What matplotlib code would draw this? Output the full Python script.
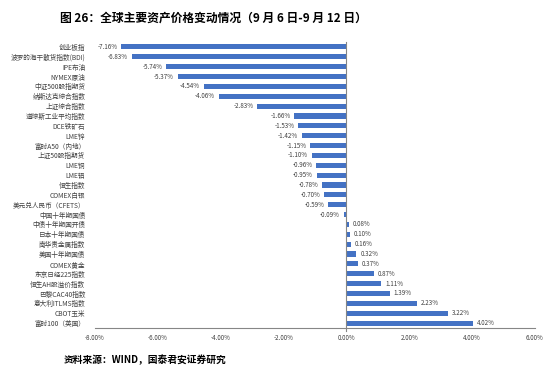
import matplotlib
matplotlib.use("Agg")
import matplotlib.pyplot as plt
from matplotlib.ticker import FuncFormatter

plt.rcParams['font.family'] = ['Noto Sans CJK SC', 'DejaVu Sans']

categories = ["创业板指", "波罗的海干散货指数(BDI)", "IPE布油", "NYMEX原油", "中证500股指期货",
              "纳斯达克综合指数", "上证综合指数", "道琼斯工业平均指数", "DCE铁矿石", "LME锌",
              "富时A50（内地）", "上证50股指期货", "LME铜", "LME铝", "恒生指数", "COMEX白银",
              "美元兑人民币（CFETS）", "中国十年期国债", "中债十年期国开债", "日本十年期国债",
              "南华贵金属指数", "美国十年期国债", "COMEX黄金", "东京日经225指数", "恒生AH股溢价指数",
              "巴黎CAC40指数", "意大利ITLMS指数", "CBOT玉米", "富时100（英国）"]
values = [-7.16, -6.83, -5.74, -5.37, -4.54, -4.06, -2.83, -1.66, -1.53, -1.42,
          -1.15, -1.10, -0.96, -0.95, -0.78, -0.70, -0.59, -0.09, 0.08, 0.10,
          0.16, 0.32, 0.37, 0.87, 1.11, 1.39, 2.23, 3.22, 4.02]
xticks = [-8, -6, -4, -2, 0, 2, 4, 6]

fig = plt.figure(figsize=(5.5, 3.74), dpi=100)
ax = fig.add_axes([95/550, 1-328/374, 440/550, (328-42)/374])

n = len(categories)
ypos = list(range(n))
color = "#4472C4"
ax.barh(ypos, values, height=0.52, color=color, zorder=2)
ax.set_ylim(n - 0.5, -0.5)
ax.set_xlim(-8, 6)
ax.set_xticks(xticks)
ax.xaxis.set_major_formatter(FuncFormatter(lambda v, p: f"{v:.2f}%"))
ax.tick_params(axis='x', length=0, labelsize=4.5, colors="#404040", pad=4)
ax.set_yticks(ypos)
ax.set_yticklabels(categories)
ax.tick_params(axis='y', length=0, labelsize=4.8, colors="#404040", pad=7)

for s in ['top', 'right', 'left']:
    ax.spines[s].set_visible(False)
ax.spines['bottom'].set_color("#868686")
ax.spines['bottom'].set_linewidth(0.8)
ax.axvline(0, ymin=-0.012, ymax=1.0, color="#868686", linewidth=0.8, zorder=3, clip_on=False)

for y, v in zip(ypos, values):
    if v < 0:
        ax.text(v - 0.12, y, f"{v:.2f}%", ha='right', va='center', fontsize=4.5, color="#404040")
    else:
        ax.text(v + 0.12, y, f"{v:.2f}%", ha='left', va='center', fontsize=4.5, color="#404040")

fig.text(60/550, 1-18/374, "图 26：全球主要资产价格变动情况（9 月 6 日-9 月 12 日）",
         fontsize=8.5, fontweight='bold', ha='left', va='center', color="#000000")
fig.text(64/550, 1-360/374, "资料来源：WIND，国泰君安证券研究",
         fontsize=7, fontweight='bold', ha='left', va='center', color="#000000")

fig.savefig("out.png", dpi=100)
